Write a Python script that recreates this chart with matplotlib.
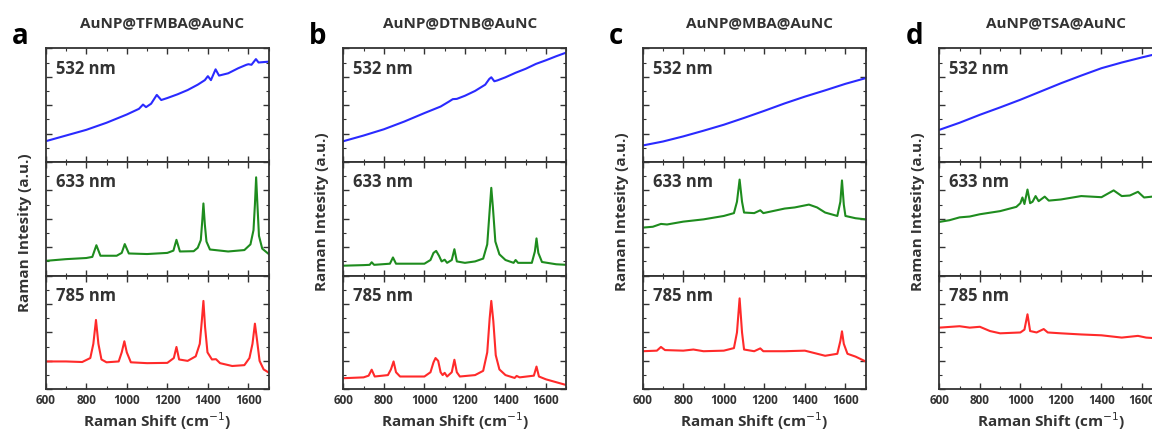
import matplotlib
matplotlib.use('Agg')
import matplotlib.pyplot as plt
from matplotlib.ticker import MultipleLocator

plt.rcParams['font.family'] = ['Open Sans', 'DejaVu Sans']

# spectra, y in units of one sub-panel (0..4)
a_532_x = [600, 700, 800, 900, 1000, 1060, 1080, 1095, 1120, 1148, 1170, 1200, 1250, 1300, 1350, 1385, 1400, 1415, 1438, 1455, 1500, 1550, 1590, 1600, 1615, 1637, 1650, 1700]
a_532_y = [0.73, 0.93, 1.13, 1.38, 1.67, 1.87, 2.02, 1.93, 2.05, 2.36, 2.18, 2.25, 2.38, 2.53, 2.72, 2.88, 3.02, 2.88, 3.26, 3.04, 3.12, 3.30, 3.42, 3.44, 3.42, 3.62, 3.50, 3.53]
a_633_x = [600, 700, 800, 830, 850, 870, 950, 975, 990, 1010, 1100, 1200, 1230, 1245, 1262, 1330, 1350, 1365, 1372, 1378, 1385, 1393, 1410, 1500, 1580, 1610, 1625, 1632, 1638, 1645, 1652, 1668, 1700]
a_633_y = [0.52, 0.58, 0.62, 0.66, 1.07, 0.70, 0.70, 0.80, 1.11, 0.78, 0.76, 0.80, 0.88, 1.26, 0.85, 0.86, 0.98, 1.25, 1.90, 2.54, 1.80, 1.20, 0.92, 0.85, 0.90, 1.10, 1.60, 2.50, 3.46, 2.40, 1.40, 0.95, 0.76]
a_785_x = [600, 700, 780, 820, 835, 848, 860, 875, 900, 960, 975, 988, 1000, 1020, 1100, 1200, 1232, 1245, 1258, 1300, 1340, 1360, 1370, 1378, 1386, 1398, 1420, 1440, 1460, 1520, 1580, 1605, 1620, 1632, 1643, 1655, 1675, 1700]
a_785_y = [0.98, 0.98, 0.96, 1.10, 1.60, 2.44, 1.60, 1.05, 0.95, 0.98, 1.30, 1.69, 1.30, 0.95, 0.92, 0.93, 1.10, 1.49, 1.05, 1.00, 1.16, 1.60, 2.40, 3.11, 2.20, 1.30, 1.05, 1.06, 0.92, 0.82, 0.85, 1.10, 1.60, 2.31, 1.70, 1.00, 0.70, 0.59]

b_532_x = [600, 700, 800, 900, 1000, 1080, 1120, 1140, 1160, 1200, 1250, 1300, 1320, 1330, 1345, 1360, 1400, 1450, 1500, 1550, 1600, 1650, 1700]
b_532_y = [0.73, 0.93, 1.15, 1.42, 1.72, 1.95, 2.12, 2.21, 2.22, 2.33, 2.50, 2.72, 2.92, 2.98, 2.84, 2.87, 2.98, 3.14, 3.28, 3.45, 3.58, 3.72, 3.85]
b_633_x = [600, 700, 730, 740, 752, 830, 845, 860, 950, 1000, 1030, 1045, 1058, 1072, 1085, 1100, 1112, 1135, 1148, 1160, 1200, 1250, 1290, 1310, 1322, 1330, 1338, 1350, 1370, 1400, 1440, 1450, 1462, 1530, 1545, 1553, 1562, 1580, 1650, 1700]
b_633_y = [0.35, 0.37, 0.38, 0.47, 0.38, 0.42, 0.64, 0.42, 0.42, 0.42, 0.55, 0.80, 0.87, 0.70, 0.50, 0.56, 0.45, 0.55, 0.93, 0.50, 0.45, 0.50, 0.60, 1.10, 2.30, 3.09, 2.40, 1.20, 0.75, 0.55, 0.45, 0.55, 0.45, 0.45, 0.85, 1.31, 0.80, 0.48, 0.40, 0.38]
b_785_x = [600, 700, 725, 740, 755, 820, 835, 848, 860, 880, 1000, 1030, 1045, 1055, 1068, 1080, 1090, 1100, 1112, 1135, 1148, 1160, 1175, 1250, 1290, 1310, 1322, 1330, 1340, 1352, 1370, 1400, 1445, 1455, 1470, 1540, 1553, 1565, 1600, 1650, 1700]
b_785_y = [0.39, 0.42, 0.48, 0.69, 0.45, 0.50, 0.70, 0.98, 0.60, 0.45, 0.45, 0.60, 0.95, 1.10, 1.00, 0.60, 0.50, 0.58, 0.45, 0.60, 1.04, 0.60, 0.45, 0.50, 0.65, 1.30, 2.50, 3.11, 2.40, 1.20, 0.70, 0.50, 0.40, 0.47, 0.42, 0.48, 0.80, 0.45, 0.35, 0.25, 0.15]

c_532_x = [600, 700, 800, 900, 1000, 1100, 1200, 1300, 1400, 1500, 1600, 1700]
c_532_y = [0.58, 0.72, 0.90, 1.10, 1.31, 1.55, 1.80, 2.06, 2.30, 2.52, 2.75, 2.95]
c_633_x = [600, 650, 690, 720, 800, 900, 1000, 1050, 1065, 1078, 1090, 1100, 1150, 1180, 1195, 1300, 1350, 1420, 1460, 1500, 1560, 1575, 1583, 1592, 1600, 1650, 1700]
c_633_y = [1.69, 1.72, 1.82, 1.80, 1.90, 1.98, 2.10, 2.20, 2.60, 3.38, 2.60, 2.22, 2.20, 2.30, 2.20, 2.36, 2.40, 2.50, 2.40, 2.22, 2.10, 2.60, 3.35, 2.50, 2.10, 2.02, 1.98]
c_785_x = [600, 670, 690, 710, 800, 850, 900, 1000, 1050, 1065, 1078, 1090, 1100, 1150, 1180, 1195, 1300, 1400, 1500, 1560, 1575, 1583, 1592, 1610, 1650, 1700]
c_785_y = [1.34, 1.36, 1.49, 1.38, 1.36, 1.40, 1.34, 1.36, 1.45, 2.00, 3.20, 2.00, 1.40, 1.34, 1.44, 1.34, 1.34, 1.36, 1.18, 1.25, 1.70, 2.04, 1.60, 1.25, 1.15, 0.98]

d_532_x = [600, 700, 800, 900, 1000, 1100, 1200, 1300, 1400, 1500, 1600, 1700]
d_532_y = [1.13, 1.38, 1.66, 1.92, 2.19, 2.48, 2.77, 3.04, 3.30, 3.50, 3.68, 3.85]
d_633_x = [600, 650, 700, 750, 800, 900, 980, 1000, 1010, 1020, 1035, 1048, 1060, 1075, 1090, 1120, 1140, 1200, 1300, 1350, 1400, 1460, 1500, 1540, 1580, 1610, 1650, 1700]
d_633_y = [1.89, 1.95, 2.05, 2.08, 2.16, 2.27, 2.42, 2.55, 2.75, 2.52, 3.03, 2.55, 2.60, 2.80, 2.62, 2.78, 2.64, 2.68, 2.80, 2.78, 2.76, 3.00, 2.80, 2.82, 2.95, 2.75, 2.78, 2.80]
d_785_x = [600, 700, 750, 800, 850, 900, 1000, 1020, 1035, 1048, 1080, 1115, 1135, 1200, 1300, 1400, 1500, 1580, 1620, 1700]
d_785_y = [2.17, 2.22, 2.17, 2.20, 2.05, 1.97, 2.00, 2.10, 2.64, 2.05, 2.00, 2.12, 2.00, 1.97, 1.93, 1.90, 1.82, 1.88, 1.82, 1.78]

titles = ['AuNP@TFMBA@AuNC', 'AuNP@DTNB@AuNC', 'AuNP@MBA@AuNC', 'AuNP@TSA@AuNC']
letters = ['a', 'b', 'c', 'd']
lasers = ['532 nm', '633 nm', '785 nm']
colors = ['#2a2aff', '#1e8c1e', '#ff2a2a']

spectra = [
    [(a_532_x, a_532_y), (a_633_x, a_633_y), (a_785_x, a_785_y)],
    [(b_532_x, b_532_y), (b_633_x, b_633_y), (b_785_x, b_785_y)],
    [(c_532_x, c_532_y), (c_633_x, c_633_y), (c_785_x, c_785_y)],
    [(d_532_x, d_532_y), (d_633_x, d_633_y), (d_785_x, d_785_y)],
]

W, H = 1152, 433
fig = plt.figure(figsize=(W / 100, H / 100), dpi=100)

lefts = [45.7, 343.3, 642.7, 939.3]
ylab_y = [233, 212, 212, 212]
axw = 223
top, bot = 48.3, 389.3
subh = (bot - top) / 3
dark = '#333333'

for p in range(4):
    for k in range(3):
        y0 = top + k * subh
        ax = fig.add_axes([lefts[p] / W, 1 - (y0 + subh) / H, axw / W, subh / H])
        xs, ys = spectra[p][k]
        ax.plot(xs, ys, color=colors[k], lw=1.5)
        ax.set_xlim(600, 1700)
        ax.set_ylim(0, 4)
        ax.xaxis.set_major_locator(MultipleLocator(200))
        ax.xaxis.set_minor_locator(MultipleLocator(100))
        ax.yaxis.set_major_locator(MultipleLocator(1))
        ax.yaxis.set_minor_locator(MultipleLocator(0.5))
        ax.tick_params(which='both', direction='in', top=True, right=True,
                       labelleft=False, color=dark, labelcolor=dark)
        ax.tick_params(which='major', length=4, width=1)
        ax.tick_params(which='minor', length=2, width=0.8)
        for s in ax.spines.values():
            s.set_linewidth(1.3)
            s.set_color(dark)
        if k < 2:
            ax.tick_params(labelbottom=False)
        else:
            for lab in ax.get_xticklabels():
                lab.set_fontweight('bold')
                lab.set_fontsize(8.5)
            ax.set_xlabel('Raman Shift (cm$^{-1}$)', fontsize=11, fontweight='bold',
                          color=dark, labelpad=2)
        ax.text(0.045, 0.82, lasers[k], transform=ax.transAxes, fontsize=12,
                fontweight='bold', color=dark, va='center')

    fig.text((lefts[p] + axw / 2 + 5) / W, 1 - 23 / H, titles[p], ha='center', va='center',
             fontsize=11, fontweight='bold', color=dark)
    fig.text((lefts[p] - 34) / W, 1 - 36 / H, letters[p], ha='left', va='center',
             fontsize=20, fontweight='bold', color='black')
    fig.text((lefts[p] - 21) / W, 1 - ylab_y[p] / H, 'Raman Intesity (a.u.)', rotation=90,
             ha='center', va='center', fontsize=11, fontweight='bold', color=dark)

fig.savefig('out.png', dpi=100)
